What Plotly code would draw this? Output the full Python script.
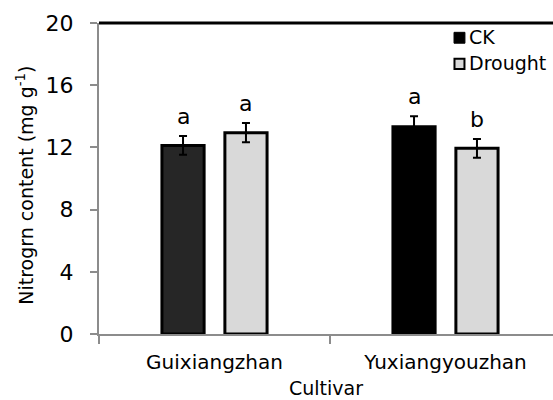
import plotly.graph_objects as go

cultivars = ["Guixiangzhan", "Yuxiangyouzhan"]
ck_values = [12.13, 13.33]
ck_errors = [0.60, 0.68]
drought_values = [12.95, 11.94]
drought_errors = [0.62, 0.60]
ck_letters = ["a", "a"]
drought_letters = ["a", "b"]
y_ticks = [0, 4, 8, 12, 16, 20]

FONT = "DejaVu Sans"
bargap = 0.455
bargroupgap = 0.33
slot = (1 - bargap) / 2

fig = go.Figure()
fig.add_trace(go.Bar(
    name="CK", x=cultivars, y=ck_values,
    marker=dict(color=["#262626", "#000000"], line=dict(color="black", width=3)),
    error_y=dict(type="data", array=ck_errors, color="black", thickness=2, width=4),
    showlegend=False,
))
fig.add_trace(go.Bar(
    name="Drought", x=cultivars, y=drought_values,
    marker=dict(color="#d9d9d9", line=dict(color="black", width=3)),
    error_y=dict(type="data", array=drought_errors, color="black", thickness=2, width=4),
    showlegend=False,
))

annotations = []
for i, c in enumerate(cultivars):
    for vals, errs, letters, sign in [(ck_values, ck_errors, ck_letters, -1),
                                       (drought_values, drought_errors, drought_letters, 1)]:
        annotations.append(dict(
            x=i + sign * slot / 2, y=vals[i] + errs[i], xref="x", yref="y",
            text=letters[i], showarrow=False, yanchor="bottom", yshift=5,
            font=dict(family=FONT, size=22, color="black"),
        ))

# y-axis title
annotations.append(dict(
    x=-0.163, y=0.48, xref="paper", yref="paper", textangle=-90,
    text="Nitrogrn content (mg g<sup>-1</sup>)", showarrow=False,
    xanchor="center", yanchor="middle",
    font=dict(family=FONT, size=19, color="black"),
))
# x-axis title
annotations.append(dict(
    x=0.5, y=-0.2122, xref="paper", yref="paper",
    text="Cultivar", showarrow=False, xanchor="center", yanchor="bottom",
    borderpad=0,
    font=dict(family=FONT, size=19, color="black"),
))
# legend text
annotations.append(dict(x=0.81, y=0.955, xref="paper", yref="paper", text="CK",
                        showarrow=False, xanchor="left", yanchor="middle",
                        font=dict(family=FONT, size=19, color="black")))
annotations.append(dict(x=0.81, y=0.87, xref="paper", yref="paper", text="Drought",
                        showarrow=False, xanchor="left", yanchor="middle",
                        font=dict(family=FONT, size=19, color="black")))

shapes = [
    dict(type="line", xref="paper", yref="paper", x0=0, x1=1, y0=1, y1=1,
         line=dict(color="black", width=3)),
    dict(type="rect", xref="paper", yref="paper", x0=0.782, x1=0.806, y0=0.935, y1=0.97,
         fillcolor="black", line=dict(color="black", width=1)),
    dict(type="rect", xref="paper", yref="paper", x0=0.783, x1=0.805, y0=0.852, y1=0.885,
         fillcolor="#d9d9d9", line=dict(color="black", width=2)),
]

fig.update_layout(
    width=553, height=400,
    margin=dict(l=99, r=0, t=23, b=66),
    paper_bgcolor="white", plot_bgcolor="white",
    barmode="group", bargap=bargap, bargroupgap=bargroupgap,
    annotations=annotations, shapes=shapes,
    showlegend=False,
)
fig.update_xaxes(
    range=[-0.5, 1.5 - 8 / 231], showgrid=False, showline=True,
    linecolor="#8c8c8c", linewidth=2, ticks="outside", tickson="boundaries",
    ticklen=8, tickcolor="#8c8c8c", tickwidth=2,
    tickfont=dict(family=FONT, size=20, color="black"), ticklabelstandoff=9,
)
fig.update_yaxes(
    range=[0, 20], tickvals=y_ticks, showgrid=False, showline=True,
    linecolor="#8c8c8c", linewidth=2, ticks="outside", ticklen=7,
    tickcolor="#8c8c8c", tickwidth=2, zeroline=False,
    tickfont=dict(family=FONT, size=22, color="black"), ticklabelstandoff=12,
)

fig.write_html(
    "out.html",
    config={"displayModeBar": False},
    post_script="document.body.style.margin='0px';document.body.style.padding='0px';",
)
